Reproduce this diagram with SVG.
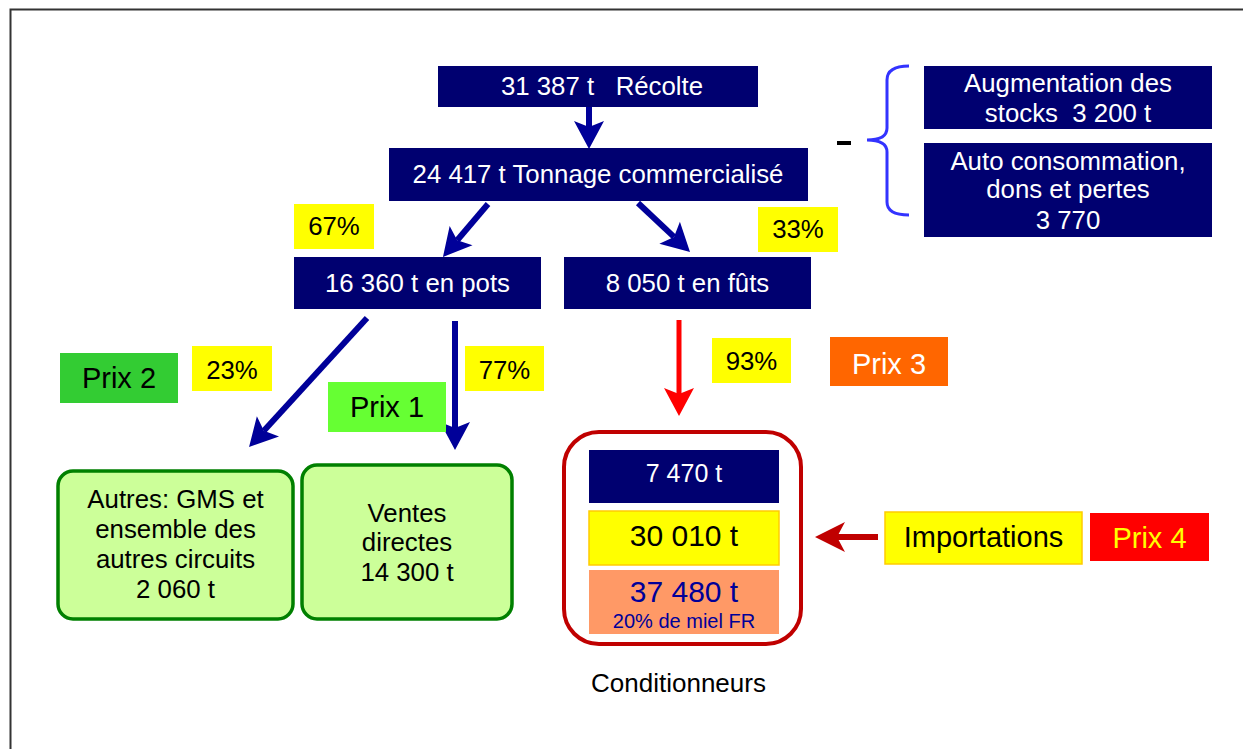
<svg xmlns="http://www.w3.org/2000/svg" width="1243" height="749" viewBox="0 0 1243 749">
<style>
text{font-family:"Liberation Sans",Arial,sans-serif;text-anchor:middle;font-size:25.8px;white-space:pre}
.w{fill:#ffffff}
.k{fill:#000000}
.navy{fill:#000070}
.yel{fill:#ffff00}
.big{font-size:29px}
.green{fill:#ccff99;stroke:#008000;stroke-width:3.5}
.blue{stroke:#000099;stroke-width:6;fill:none}
</style>
<defs>
<marker id="ab" markerUnits="userSpaceOnUse" viewBox="-8 -16 32 32" markerWidth="32" markerHeight="32" refX="0" refY="0" orient="auto">
<path d="M22,0 L-6,-15 L0,0 L-6,15 Z" fill="#000099"/>
</marker>
<marker id="ar" markerUnits="userSpaceOnUse" viewBox="-8 -16 32 32" markerWidth="32" markerHeight="32" refX="0" refY="0" orient="auto">
<path d="M22,0 L-6,-15 L0,0 L-6,15 Z" fill="#ff0000"/>
</marker>
<marker id="ad" markerUnits="userSpaceOnUse" viewBox="-10 -16 34 32" markerWidth="34" markerHeight="32" refX="0" refY="0" orient="auto">
<path d="M22,0 L-8,-15 L0,0 L-8,15 Z" fill="#c00000"/>
</marker>
</defs>
<rect width="1243" height="749" fill="#ffffff"/>
<path d="M10.5,749 L10.5,9.5 L1243,9.5" fill="none" stroke="#333333" stroke-width="2"/>

<g id="connectors">
<line x1="589" y1="107" x2="589" y2="127" class="blue" marker-end="url(#ab)"/>
<line x1="488" y1="204" x2="457.2" y2="240.2" class="blue" marker-end="url(#ab)"/>
<line x1="638" y1="203" x2="674" y2="236.9" class="blue" marker-end="url(#ab)"/>
<line x1="367" y1="318" x2="263.9" y2="430.8" class="blue" marker-end="url(#ab)"/>
<line x1="455" y1="321" x2="455" y2="428" class="blue" marker-end="url(#ab)"/>
<line x1="679" y1="320" x2="679" y2="394" stroke="#ff0000" stroke-width="5" marker-end="url(#ar)"/>
<line x1="878" y1="537" x2="837" y2="537" stroke="#c00000" stroke-width="6" marker-end="url(#ad)"/>
<path d="M909,66 Q887,66 887,80 L887,128 Q887,140 867,140 Q887,140 887,152 L887,202 Q887,215 909,215" fill="none" stroke="#3333ff" stroke-width="3"/>
<rect x="837" y="141" width="14" height="4" fill="#000000"/>
</g>

<g id="recolte"><rect x="438" y="66" width="320" height="41" class="navy"/><text x="602" y="95" class="w">31 387 t   Récolte</text></g>
<g id="tonnage"><rect x="389" y="148" width="419" height="53" class="navy"/><text x="598" y="183" class="w">24 417 t Tonnage commercialisé</text></g>
<g id="p67"><rect x="294" y="204" width="80" height="45" class="yel"/><text x="334" y="235" class="k">67%</text></g>
<g id="p33"><rect x="758" y="207" width="80" height="45" class="yel"/><text x="798" y="238" class="k">33%</text></g>
<g id="pots"><rect x="294" y="257" width="247" height="52" class="navy"/><text x="417.5" y="292" class="w">16 360 t en pots</text></g>
<g id="futs"><rect x="564" y="257" width="247" height="52" class="navy"/><text x="687.5" y="292" class="w">8 050 t en fûts</text></g>
<g id="stocks"><rect x="924" y="66" width="288" height="63" class="navy"/><text x="1068" y="92" class="w">Augmentation des</text><text x="1068" y="122" class="w">stocks  3 200 t</text></g>
<g id="auto"><rect x="924" y="143" width="288" height="94" class="navy"/><text x="1068" y="170" class="w">Auto consommation,</text><text x="1068" y="198" class="w">dons et pertes</text><text x="1068" y="229" class="w">3 770</text></g>

<g id="prix2"><rect x="60" y="353" width="118" height="50" fill="#33cc33"/><text x="119" y="388" class="k big">Prix 2</text></g>
<g id="p23"><rect x="192" y="346" width="80" height="45" class="yel"/><text x="232" y="379" class="k">23%</text></g>
<g id="prix1"><rect x="328" y="382" width="118" height="50" fill="#66ff33"/><text x="387" y="417" class="k big">Prix 1</text></g>
<g id="p77"><rect x="465" y="346" width="79" height="45" class="yel"/><text x="504.5" y="379" class="k">77%</text></g>
<g id="p93"><rect x="712" y="338" width="79" height="45" class="yel"/><text x="751.5" y="370" class="k">93%</text></g>
<g id="prix3"><rect x="830" y="337" width="118" height="49" fill="#ff6600"/><text x="889" y="374" class="w big">Prix 3</text></g>

<g id="autres"><rect x="58" y="471" width="235" height="148" rx="15" class="green"/>
<text x="175.5" y="508" class="k">Autres: GMS et</text><text x="175.5" y="538" class="k">ensemble des</text><text x="175.5" y="568" class="k">autres circuits</text><text x="175.5" y="598" class="k">2 060 t</text></g>
<g id="ventes"><rect x="302" y="465" width="210" height="154" rx="15" class="green"/>
<text x="407" y="522" class="k">Ventes</text><text x="407" y="551" class="k">directes</text><text x="407" y="581" class="k">14 300 t</text></g>

<g id="conditionneurs">
<rect x="564" y="432" width="237" height="212" rx="35" fill="none" stroke="#c00000" stroke-width="4"/>
<rect x="589" y="450" width="190" height="53" class="navy"/><text x="684" y="482" class="w" style="font-size:25px">7 470 t</text>
<rect x="589" y="511" width="190" height="54" class="yel" stroke="#ffcc00" stroke-width="1.5"/><text x="684" y="546" class="k" style="font-size:30px">30 010 t</text>
<rect x="589" y="570" width="190" height="64" fill="#ff9966"/><text x="684" y="602" style="font-size:30px;fill:#000099">37 480 t</text><text x="684" y="628" style="font-size:20px;fill:#000099">20% de miel FR</text>
<text x="678.5" y="692" class="k" style="font-size:26px">Conditionneurs</text>
</g>
<g id="importations"><rect x="885" y="512" width="197" height="52" class="yel" stroke="#ffcc00" stroke-width="1.5"/><text x="983.5" y="547" class="k big">Importations</text></g>
<g id="prix4"><rect x="1090" y="513" width="119" height="48" fill="#ff0000"/><text x="1149.5" y="548" class="big" style="fill:#ffff00">Prix 4</text></g>
</svg>
